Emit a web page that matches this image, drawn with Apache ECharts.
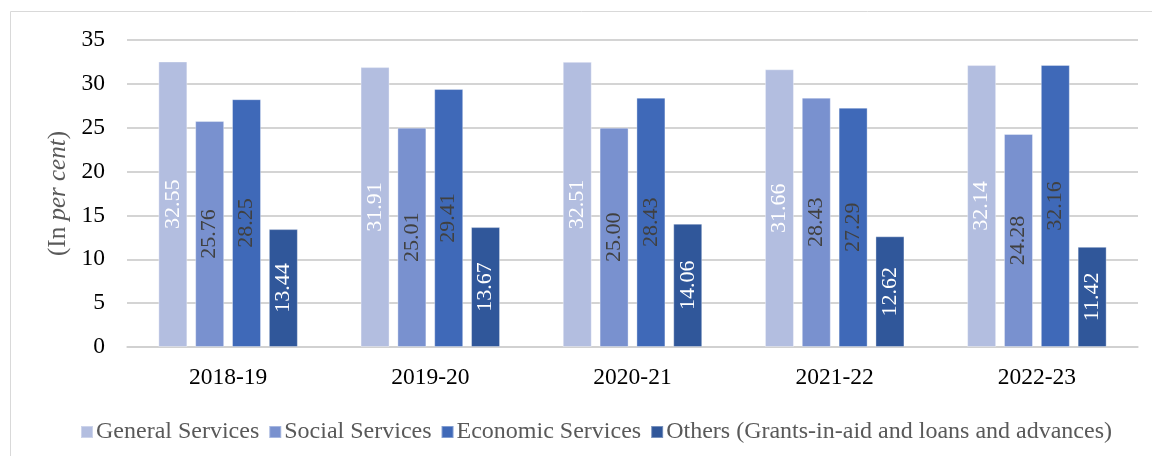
<!DOCTYPE html>
<html>
<head>
<meta charset="utf-8">
<script src="https://cdn.jsdelivr.net/npm/echarts@6/dist/echarts.min.js"></script>
<style>
  html, body { margin: 0; padding: 0; background: #fff; }
  #main { width: 1152px; height: 456px; }
</style>
</head>
<body>
<div id="main"></div>
<script>
var chartDom = document.getElementById('main');
var myChart = echarts.init(chartDom);

let years = ['2018-19', '2019-20', '2020-21', '2021-22', '2022-23'];
let generalServices = [32.55, 31.91, 32.51, 31.66, 32.14];
let socialServices = [25.76, 25.01, 25.00, 28.43, 24.28];
let economicServices = [28.25, 29.41, 28.43, 27.29, 32.16];
let others = [13.44, 13.67, 14.06, 12.62, 11.42];

let seriesNames = [
  'General Services',
  'Social Services',
  'Economic Services',
  'Others (Grants-in-aid and loans and advances)'
];
let seriesData = [generalServices, socialServices, economicServices, others];
let barColors = ['#b3bee0', '#7991cf', '#3f69b8', '#30579a'];
let labelColors = ['#ffffff', '#404040', '#404040', '#ffffff'];

const font = '"Liberation Serif", "Times New Roman", serif';

let series = seriesNames.map(function (name, i) {
  return {
    name: name,
    type: 'bar',
    barWidth: 29,
    barGap: '27%',
    data: seriesData[i],
    itemStyle: {
      color: barColors[i],
      borderColor: 'rgba(255,255,255,0.35)',
      borderWidth: 1
    },
    label: {
      show: true,
      position: 'inside',
      rotate: 90,
      color: labelColors[i],
      fontFamily: font,
      fontSize: 22,
      formatter: function (p) { return p.value.toFixed(2); }
    }
  };
});

var option = {
  animation: false,
  textStyle: { fontFamily: font },
  graphic: [{
    type: 'rect',
    shape: { x: 10.5, y: 11.5, width: 1200, height: 500 },
    style: { fill: 'none', stroke: '#d9d9d9', lineWidth: 1 },
    silent: true
  }],
  grid: {
    left: 127,
    right: 14,
    top: 40,
    bottom: 109
  },
  legend: {
    left: 75,
    top: 415,
    itemWidth: 12,
    itemHeight: 12,
    itemGap: 9,
    icon: 'rect',
    textStyle: {
      color: '#595959',
      fontFamily: font,
      fontSize: 24,
      padding: [0, 0, 0, -2]
    },
    data: seriesNames
  },
  xAxis: {
    type: 'category',
    data: years,
    axisLine: { lineStyle: { color: '#d0d0d0', width: 1.5 } },
    axisTick: { show: false },
    axisLabel: {
      color: '#000',
      fontFamily: font,
      fontSize: 23.5,
      margin: 19
    }
  },
  yAxis: {
    type: 'value',
    min: 0,
    max: 35,
    interval: 5,
    name: '{n|(In }{i|per cent}{n|)}',
    nameLocation: 'middle',
    nameGap: 56,
    nameRotate: 90,
    nameTextStyle: {
      rich: {
        n: { color: '#595959', fontFamily: font, fontSize: 25 },
        i: { color: '#595959', fontFamily: font, fontSize: 25, fontStyle: 'italic' }
      }
    },
    axisLine: { show: false },
    axisTick: { show: false },
    axisLabel: {
      color: '#000',
      fontFamily: font,
      fontSize: 23.5,
      margin: 22
    },
    splitLine: { lineStyle: { color: '#c6c6c6', width: 1.5 } }
  },
  series: series
};

option && myChart.setOption(option);
</script>
</body>
</html>
